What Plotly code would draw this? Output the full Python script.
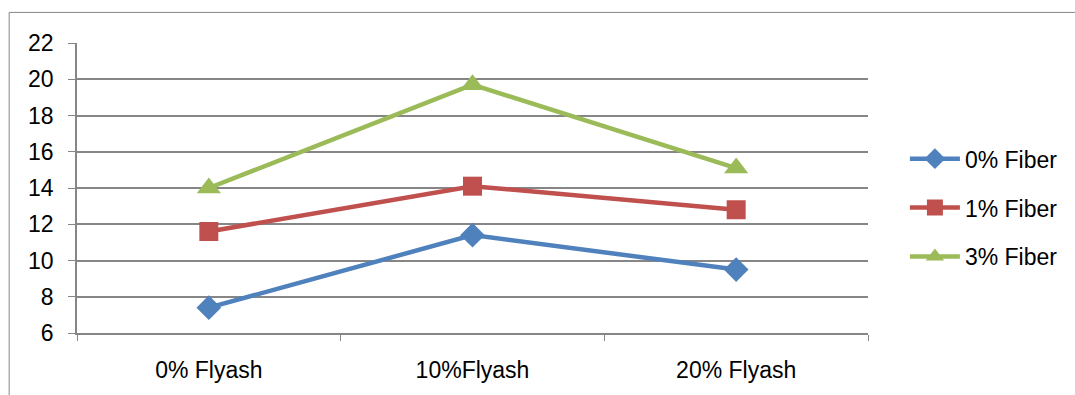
import plotly.graph_objects as go

categories = ["0% Flyash", "10%Flyash", "20% Flyash"]
fiber0 = [7.4, 11.4, 9.5]
fiber1 = [11.6, 14.1, 12.8]
fiber3 = [14.0, 19.7, 15.1]
series_names = ["0% Fiber", "1% Fiber", "3% Fiber"]
y_ticks = [6, 8, 10, 12, 14, 16, 18, 20, 22]

colors = ["#4F81BD", "#C0504D", "#9BBB59"]
symbols = ["diamond", "square", "triangle-up"]
sizes = [19, 19, 21]

fig = go.Figure()
for i, (name, vals) in enumerate(zip(series_names, [fiber0, fiber1, fiber3])):
    fig.add_trace(go.Scatter(
        x=categories, y=vals, name=name, mode="lines+markers",
        line=dict(color=colors[i], width=4.5),
        marker=dict(symbol=symbols[i], size=sizes[i], color=colors[i]),
        legendgroup=f"g{i}",
    ))

W, H = 1075, 395
L, R, T, B = 77, 205, 43, 58
pw, ph = W - L - R, H - T - B

def px_to_paper_x(px):
    return (px - L) / pw

def px_to_paper_y(py):
    return (H - B - py) / ph

fig.update_layout(
    width=W, height=H,
    margin=dict(l=L, r=R, t=T, b=B),
    paper_bgcolor="white", plot_bgcolor="white",
    font=dict(family="Liberation Sans, Arial, sans-serif", size=23, color="black"),
    showlegend=True,
    legend=dict(
        x=px_to_paper_x(907), y=px_to_paper_y(210), xanchor="left", yanchor="middle",
        font=dict(size=23), tracegroupgap=16, bgcolor="rgba(0,0,0,0)",
        itemwidth=50,
    ),
    xaxis=dict(
        type="category", range=[-0.5, 2.5], tickson="boundaries",
        ticks="outside", ticklen=6, tickcolor="#868686", tickwidth=1,
        showline=True, linecolor="#868686", linewidth=1.5,
        showgrid=False, ticklabelstandoff=16, fixedrange=True,
    ),
    yaxis=dict(
        range=[6, 22], tickvals=y_ticks, ticks="outside", ticklen=7,
        tickcolor="#868686", showline=True, linecolor="#868686", linewidth=1.5,
        showgrid=True, gridcolor="#868686", gridwidth=1.5,
        zeroline=False, ticklabelstandoff=10, fixedrange=True,
    ),
    shapes=[dict(
        type="rect", xref="paper", yref="paper",
        x0=px_to_paper_x(9), x1=px_to_paper_x(1090),
        y0=px_to_paper_y(410), y1=px_to_paper_y(12),
        line=dict(color="#868686", width=1), fillcolor="rgba(0,0,0,0)", layer="below",
    )],
)

fig.write_html("out.html", post_script="document.body.style.margin='0';",
               config={"displayModeBar": False})
